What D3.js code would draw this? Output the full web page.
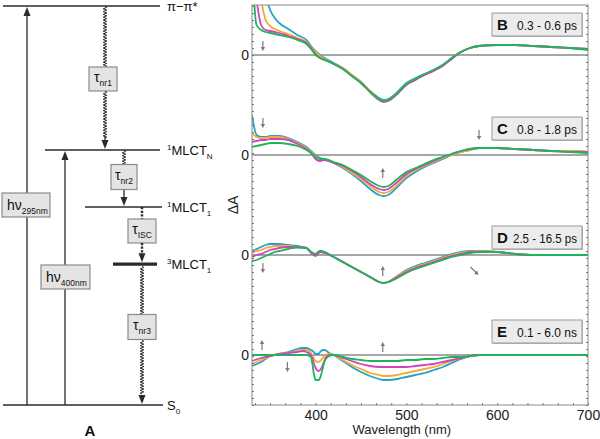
<!DOCTYPE html>
<html><head><meta charset="utf-8">
<script src="https://cdn.jsdelivr.net/npm/d3@7"></script>
<style>body{margin:0;background:#fff}svg{display:block}text{font-family:Arial,"Liberation Sans",Helvetica,sans-serif}</style>
</head><body><svg id="c" width="600" height="439"></svg>
<script>
// ---------- DATA ----------
const wlGrid = [330,335,340,345,350,355,360,370,380,390,395,400,405,410,420,430,440,450,460,470,475,480,490,500,510,520,530,540,550,560,570,580,600,620,640,660,680,700];
const wlGridE = [330,340,350,360,370,380,385,390,395,398,400,403,405,408,410,415,420,430,440,450,460,470,475,480,490,500,510,520,530,540,550,560,570,580,600,620,640,660,680,700];
const seriesColors = ["#27a2c6","#f6a935","#d143bd","#1db45a"];
const panelLetters = ["B","C","D","E"];
const panelRanges = ["0.3 - 0.6 ps","0.8 - 1.8 ps","2.5 - 16.5 ps","0.1 - 6.0 ns"];
const xTickLabels = [400,500,600,700];

const bTeal    = [90,85,80,60,45,37,32,26,20,15,9,4,0,-3,-8,-13,-20,-27,-36,-43,-45,-44,-37,-28,-23,-19,-15,-10,-3,3,7,9,10,10,9,8,7,6];
const bOrange  = [90,80,55,35,29,26,24,21,17,13,8,3,-1,-4,-9,-13,-20,-27,-36,-44,-46,-45,-38,-29,-24,-20,-15,-10,-3,3,7,9,10,10,9,8,7,6];
const bMagenta = [90,55,30,25,24,23,22,19,16,12,7,1,-3,-5,-9,-14,-21,-28,-37,-45,-47,-46,-39,-30,-25,-20,-16,-11,-4,3,7,9,10,10,9,8,7,6];
const bGreen   = [90,30,25,23,22,21,20,18,15,11,6,0,-3,-5,-9,-14,-21,-28,-37,-44,-46,-45,-38,-29,-24,-19,-15,-10,-3,3,7,9,10,10,9,8,7,5];

const cTeal    = [40,20,18,18,19,19,19,17,13,8,4,0,-3,-4,-8,-13,-19,-26,-34,-40,-41,-40,-32,-23,-17,-12,-8,-4,0,3,5,7,7,6,5,4,4,3];
const cOrange  = [22,18,17,17,18,18,18,16,12,7,3,-1,-4,-5,-8,-12,-18,-24,-31,-37,-38,-37,-30,-21,-15,-11,-7,-3,0,3,5,7,7,6,5,4,4,3];
const cMagenta = [13,14,15,15,16,16,16,15,11,6,2,-4,-6,-5,-8,-11,-16,-22,-29,-34,-35,-34,-27,-19,-14,-10,-6,-2,1,4,6,7,7,6,5,4,3,3];
const cGreen   = [8,9,10,11,12,12,12,11,9,5,2,-2,-4,-4,-7,-10,-15,-20,-26,-31,-32,-31,-24,-17,-13,-9,-5,-2,1,4,6,7,7,6,5,4,3,2];

const dTeal    = [4,6,8,10,11,11,11,10,9,7,3,1,4,3,-2,-7,-12,-17,-22,-27,-28,-27,-21,-15,-11,-8,-5,-2,1,3,4,4,3,1,0,0,0,0];
const dOrange  = [2,4,5,7,8,9,9,9,8,7,3,1,4,3,-2,-7,-12,-17,-22,-27,-28,-27,-21,-16,-12,-9,-6,-3,0,2,3.5,4,3,1,0,0,0,0];
const dMagenta = [-2,0,1,3,5,6,7,8,8,7,2,-1,3,2,-2,-7,-12,-17,-22,-27,-28,-27,-22,-17,-13,-10,-7,-4,-1,1,3,3.5,3,1,0,0,0,0];
const dGreen   = [-6,-5,-3,-1,1,3,4,6,7.5,7,3,1,4,3,-2,-7,-12,-17,-22,-27,-28,-27,-23,-18,-14,-11,-8,-5,-2,0,2,3,3,1,0,0,0,0];

const eTeal    = [-11,-7,-1,1,3,6,7,7,5,3,1,1,3,5,5,2,0,-6,-12,-17,-21,-24,-25,-25,-24,-22,-20,-18,-15,-12,-8,-4,-1,0,0,0,0,0,0,0];
const eOrange  = [-9,-5,-1,1,2,4,5,5,2,-3,-6,-7,-6,-3,-1,1,0,-5,-10,-14,-18,-20,-21,-21,-20,-18,-16,-14,-12,-9,-6,-3,-1,0,0,0,0,0,0,0];
const eMagenta = [-6,-3,-1,1,2,3,4,3,0,-8,-13,-16,-15,-10,-5,0,0,-3,-6,-9,-11,-12,-12,-12,-12,-12,-11,-10,-9,-7,-5,-3,-1,0,0,0,0,0,0,0];
const eGreen   = [0,0,0,0,0,0,0,0,-2,-18,-25,-25,-23,-13,-6,-1,0,-2,-4,-5,-6,-6,-6,-6,-6,-5,-5,-4,-4,-3,-2,-2,-1,0,0,0,0,0,0,0];

// annotation arrows: panel index, wavelength, value, direction
const arrowMarks = [
  {p:0,w:342,v:9,d:"down"},
  {p:1,w:342,v:32,d:"down"},{p:1,w:580,v:20,d:"down"},{p:1,w:474,v:-18,d:"up"},
  {p:2,w:342,v:-13,d:"down"},{p:2,w:474,v:-16,d:"up"},{p:2,w:575,v:-16,d:"diag"},
  {p:3,w:341,v:10,d:"up"},{p:3,w:369,v:-12,d:"down"},{p:3,w:474,v:8,d:"up"}
];

// energy-level diagram (schematic energies)
const levelNames = ["pp","MN","M1","M3","S0"];
const levelEnergy = [100,63.9,49.6,35.3,0];

// ---------- DRAW ----------
const svg = d3.select("#c");
const panels = [
  {wl:wlGrid, s:[bTeal,bOrange,bMagenta,bGreen]},
  {wl:wlGrid, s:[cTeal,cOrange,cMagenta,cGreen]},
  {wl:wlGrid, s:[dTeal,dOrange,dMagenta,dGreen]},
  {wl:wlGridE,s:[eTeal,eOrange,eMagenta,eGreen]}
];
const L=252,R=588,T=5,B=405;
const x = d3.scaleLinear().domain([330,700]).range([L,R]);
const panelY = panels.map((p,i)=>d3.scaleLinear().domain([-50,50]).range([55+100*i+50,55+100*i-50]));

svg.append("defs").append("clipPath").attr("id","clip").append("rect")
  .attr("x",L).attr("y",T).attr("width",R-L).attr("height",B-T);

// zero lines
panelY.forEach(y=>{
  svg.append("line").attr("x1",L).attr("x2",R).attr("y1",y(0)).attr("y2",y(0))
    .attr("stroke","#8a8a8a").attr("stroke-width",1.3);
  svg.append("text").attr("x",249).attr("y",y(0)+5).attr("text-anchor","end")
    .attr("font-size",14).attr("fill","#222").text("0");
});

// curves
const g = svg.append("g").attr("clip-path","url(#clip)");
panels.forEach((p,i)=>{
  const line = d3.line().x((d,k)=>x(p.wl[k])).y(d=>panelY[i](d)).curve(d3.curveMonotoneX);
  p.s.forEach((vals,j)=>{
    g.append("path").attr("d",line(vals)).attr("fill","none")
      .attr("stroke",seriesColors[j]).attr("stroke-width",1.8).attr("stroke-linejoin","round");
  });
});

// frame
svg.append("rect").attr("x",L).attr("y",T).attr("width",R-L).attr("height",B-T)
  .attr("fill","none").attr("stroke","#8a8a8a").attr("stroke-width",1);

// minor ticks frame
const fy = d3.scaleLinear().domain([0,400]).range([B,T]);
const ytv = d3.range(0,401,7);
svg.append("g").attr("transform",`translate(${L},0)`)
  .call(d3.axisRight(fy).tickValues(ytv).tickSize(2).tickFormat(""))
  .call(a=>{a.select(".domain").remove();a.selectAll("line").attr("stroke","#777");});
svg.append("g").attr("transform",`translate(${R},0)`)
  .call(d3.axisLeft(fy).tickValues(ytv).tickSize(2).tickFormat(""))
  .call(a=>{a.select(".domain").remove();a.selectAll("line").attr("stroke","#777");});
svg.append("g").attr("transform",`translate(0,${B})`)
  .call(d3.axisTop(x).tickValues(d3.range(700,329,-100/6)).tickSize(2).tickFormat(""))
  .call(a=>{a.select(".domain").remove();a.selectAll("line").attr("stroke","#777");});
svg.append("g").attr("transform",`translate(0,${B})`)
  .call(d3.axisBottom(x).tickValues(xTickLabels).tickSize(0).tickPadding(5).tickFormat(d3.format("d")))
  .call(a=>{a.select(".domain").remove();a.selectAll("text").attr("font-size",14).attr("fill","#222")
     .style("font-family","Arial, 'Liberation Sans', sans-serif");});

svg.append("text").attr("x",x(495)).attr("y",434).attr("text-anchor","middle")
  .attr("font-size",13).attr("fill","#222").text("Wavelength (nm)");
svg.append("text").attr("transform","translate(238,205) rotate(-90)").attr("text-anchor","middle")
  .attr("font-size",14).attr("fill","#222").text("ΔA");

// panel legend boxes
const boxTops=[13,117,226,320];
panelLetters.forEach((l,i)=>{
  const bx=492, by=boxTops[i], bw=90, bh=23;
  svg.append("rect").attr("x",bx+1).attr("y",by+1).attr("width",bw).attr("height",bh).attr("fill","#b8b8b8");
  svg.append("rect").attr("x",bx).attr("y",by).attr("width",bw).attr("height",bh)
    .attr("fill","#ececec").attr("stroke","#9a9a9a").attr("stroke-width",1);
  svg.append("text").attr("x",bx+5).attr("y",by+17).attr("fill","#111")
    .attr("font-weight","bold").attr("font-size",15).text(l);
  const sx = i===2 ? bx+21 : bx+25;
  svg.append("text").attr("x",sx).attr("y",by+16.5).attr("fill","#111")
    .attr("font-size",13).attr("textLength", i===2?64:60).attr("lengthAdjust","spacingAndGlyphs")
    .text(panelRanges[i]);
});

// arrows
arrowMarks.forEach(a=>{
  const cx=x(a.w), cy=panelY[a.p](a.v);
  let x1=cx,y1=cy-5,x2=cx,y2=cy+5;
  if(a.d==="up"){y1=cy+5;y2=cy-5;}
  if(a.d==="diag"){x1=cx-4;y1=cy-4;x2=cx+4;y2=cy+4;}
  const ang=Math.atan2(y2-y1,x2-x1);
  svg.append("line").attr("x1",x1).attr("y1",y1).attr("x2",x2-2.5*Math.cos(ang)).attr("y2",y2-2.5*Math.sin(ang))
    .attr("stroke","#7a7a7a").attr("stroke-width",1.2);
  const hl=4, hw=2.2;
  const bxp=x2-hl*Math.cos(ang), byp=y2-hl*Math.sin(ang);
  svg.append("path").attr("d",`M${x2},${y2}L${bxp+hw*Math.sin(ang)},${byp-hw*Math.cos(ang)}L${bxp-hw*Math.sin(ang)},${byp+hw*Math.cos(ang)}Z`)
    .attr("fill","#7a7a7a");
});

// ---------- ENERGY DIAGRAM ----------
const ey = d3.scaleLinear().domain([0,100]).range([405,6]);
const lev = {}; levelNames.forEach((n,i)=>lev[n]=ey(levelEnergy[i]));
const ink="#2b2b2b";
function hline(x1,x2,y,w){svg.append("line").attr("x1",x1).attr("x2",x2).attr("y1",y).attr("y2",y).attr("stroke",ink).attr("stroke-width",w);}
hline(3,160,lev.pp,1.5);
hline(45,160,lev.MN,1.5);
hline(85,162,lev.M1,1.5);
hline(113,157,lev.M3,3.2);
hline(3,163,lev.S0,1.5);

function head(xc,yt,up){
  const d = up? `M${xc},${yt}L${xc-3.5},${yt+9}L${xc+3.5},${yt+9}Z` : `M${xc},${yt}L${xc-3.5},${yt-9}L${xc+3.5},${yt-9}Z`;
  svg.append("path").attr("d",d).attr("fill",ink);
}
function vline(xc,y1,y2,dash,w){
  const l=svg.append("line").attr("x1",xc).attr("x2",xc).attr("y1",y1).attr("y2",y2).attr("stroke",ink).attr("stroke-width",w||1.3);
  if(dash) l.attr("stroke-dasharray",dash);
}
function wavy(xc,y1,y2){
  let d=`M${xc},${y1}`; let s=1;
  for(let yy=y1+1.4; yy<y2; yy+=1.4){ d+=`L${xc+1.8*s},${yy}`; s=-s; }
  d+=`L${xc},${y2}`;
  svg.append("path").attr("d",d).attr("fill","none").attr("stroke",ink).attr("stroke-width",1);
}
function box(cx,cy,w,h){
  svg.append("rect").attr("x",cx-w/2).attr("y",cy-h/2).attr("width",w).attr("height",h)
    .attr("fill","#e4e4e4").attr("stroke","#8c8c8c").attr("stroke-width",1.2);
}
// hv 295
vline(27,lev.S0,lev.pp+8); head(27,lev.pp+1,true);
box(26,205,48,24);
let t=svg.append("text").attr("x",7).attr("y",210).attr("fill","#111");
t.append("tspan").attr("font-size",14).text("hν");
t.append("tspan").attr("font-size",8.5).attr("dy",4).text("295nm");
// hv 400
vline(65,lev.S0,lev.MN+8); head(65,lev.MN+1,true);
box(65.5,277,49,24);
t=svg.append("text").attr("x",46).attr("y",282).attr("fill","#111");
t.append("tspan").attr("font-size",14).text("hν");
t.append("tspan").attr("font-size",8.5).attr("dy",4).text("400nm");
// tau nr1
wavy(105,lev.pp,67); box(103,79,28,24); wavy(105,91,138); vline(105,136,142); head(105,lev.MN-1,false);
// tau nr2
wavy(124,lev.MN,165); box(124,177,26,25); vline(124,190,200); head(124,lev.M1-1,false);
// tau ISC
vline(142,lev.M1,219,"2.2,1.4",2.4); box(142,231,28,24); vline(142,243,256,"2.2,1.4",2.4); head(142,lev.M3-2,false);
// tau nr3
wavy(142,lev.M3+2,315); box(142,327,28,25); wavy(142,340,394); head(142,lev.S0-1,false);

function tau(cx,cy,sub){
  const tt=svg.append("text").attr("x",cx).attr("y",cy+3).attr("text-anchor","middle").attr("fill","#111");
  tt.append("tspan").attr("font-size",14).text("τ");
  tt.append("tspan").attr("font-size",8.5).attr("dy",4).text(sub);
}
tau(103,79,"nr1"); tau(124,177,"nr2"); tau(142,231,"ISC"); tau(142,327,"nr3");

function levLabel(y,pre,main,sub){
  const tt=svg.append("text").attr("x",167).attr("y",y+5).attr("fill","#111");
  if(pre) tt.append("tspan").attr("font-size",8).attr("dy",-5).text(pre);
  tt.append("tspan").attr("font-size",13).attr("dy",pre?5:0).text(main);
  if(sub) tt.append("tspan").attr("font-size",8).attr("dy",4).text(sub);
}
levLabel(lev.pp,null,"π−π*",null);
levLabel(lev.MN,"1","MLCT","N");
levLabel(lev.M1,"1","MLCT","1");
levLabel(lev.M3,"3","MLCT","1");
levLabel(lev.S0,null,"S","0");
svg.append("text").attr("x",90).attr("y",436).attr("text-anchor","middle").attr("font-size",15)
  .attr("font-weight","bold").attr("fill","#111").text("A");
</script></body></html>
